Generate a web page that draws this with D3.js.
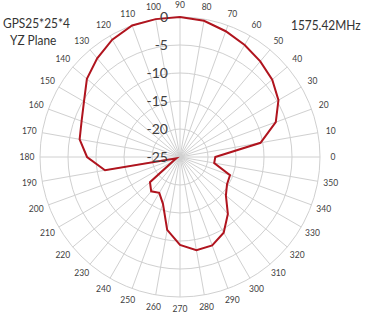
<!DOCTYPE html>
<html>
<head>
<meta charset="utf-8">
<script src="https://cdn.jsdelivr.net/npm/d3@7"></script>
<style>
  body { margin: 0; background: #fff; }
  svg { display: block; font-family: Lato, "Open Sans", sans-serif; }
</style>
</head>
<body>
<div id="chart-area"></div>
<script>
// angle in degrees, 0 at right, counter-clockwise
var angles = [0, 10, 20, 30, 40, 50, 60, 70, 80, 90, 100, 110, 120, 130, 140, 150, 160, 170,
              180, 190, 200, 210, 220, 230, 240, 250, 260, 270, 280, 290, 300, 310, 320, 330, 340, 350];
// gain (dB)
var gain = [-18.7, -10.4, -6.8, -4.7, -3.5, -2.7, -1.9, -1.1, -0.3, 0, 0, 0, -0.8, -2.0, -3.3, -5.2, -6.3, -6.8,
            -8.4, -11.4, -24.3, -23.6, -18.0, -17.0, -17.6, -16.1, -11.8, -9.3, -8.1, -8.2, -9.4, -11.7, -14.3, -15.3, -15.5, -18.8];
var radialTicks = [0, -5, -10, -15, -20, -25];
var angleTicks = angles;

var width = 369, height = 320;
var cx = 180, cy = 157;

var svg = d3.select("#chart-area")
    .append("svg")
        .attr("width", width)
        .attr("height", height);

var g = svg.append("g")
    .attr("transform", "translate(" + cx + "," + cy + ")");

var r = d3.scaleLinear()
    .domain([-25, 0])
    .range([0, 140]);

var ang = d3.scaleLinear()
    .domain([0, 360])
    .range([0, 2 * Math.PI]);

function px(a, v) { return r(v) * Math.cos(ang(a)); }
function py(a, v) { return -r(v) * Math.sin(ang(a)); }

// rings
g.selectAll(".ring")
    .data(radialTicks.filter(function(d){ return d > -25; }))
    .enter().append("circle")
        .attr("class", "ring")
        .attr("r", function(d){ return r(d); })
        .attr("fill", "none")
        .attr("stroke", "#d0d0d0")
        .attr("stroke-width", 1);

// spokes
g.selectAll(".spoke")
    .data(angleTicks)
    .enter().append("line")
        .attr("class", "spoke")
        .attr("x1", 0).attr("y1", 0)
        .attr("x2", function(d){ return px(d, 0); })
        .attr("y2", function(d){ return py(d, 0); })
        .attr("stroke", "#d0d0d0")
        .attr("stroke-width", 1);

// angle labels
g.selectAll(".alabel")
    .data(angleTicks)
    .enter().append("text")
        .attr("class", "alabel")
        .attr("x", function(d){ return (r(0) + 13) * Math.cos(ang(d)); })
        .attr("y", function(d){ return -(r(0) + 12) * Math.sin(ang(d)); })
        .attr("dy", "0.35em")
        .attr("text-anchor", "middle")
        .attr("font-size", "8.5px")
        .attr("fill", "#404040")
        .text(function(d){ return d; });

// pattern line
var line = d3.lineRadial()
    .angle(function(d){ return Math.PI / 2 - ang(d[0]); })
    .radius(function(d){ return r(d[1]); })
    .curve(d3.curveLinearClosed);

g.append("path")
    .datum(angles.map(function(a, i){ return [a, gain[i]]; }))
    .attr("d", line)
    .attr("fill", "none")
    .attr("stroke", "#b0141e")
    .attr("stroke-width", 2);

// radial labels
g.selectAll(".rlabel")
    .data(radialTicks)
    .enter().append("text")
        .attr("class", "rlabel")
        .attr("x", -12)
        .attr("y", function(d){ return -r(d); })
        .attr("dy", "0.36em")
        .attr("text-anchor", "end")
        .attr("font-size", "14px")
        .attr("fill", "#404040")
        .text(function(d){ return d; });

// titles (squeezed a bit horizontally, the original font is narrower)
function title(x, y, txt) {
    svg.append("text")
        .attr("transform", "translate(" + x + "," + y + ") scale(0.85,1)")
        .attr("font-size", "14px")
        .attr("fill", "#333")
        .text(txt);
}
title(3, 28, "GPS25*25*4");
title(10, 45, "YZ Plane");
title(291, 30, "1575.42MHz");
</script>
</body>
</html>
